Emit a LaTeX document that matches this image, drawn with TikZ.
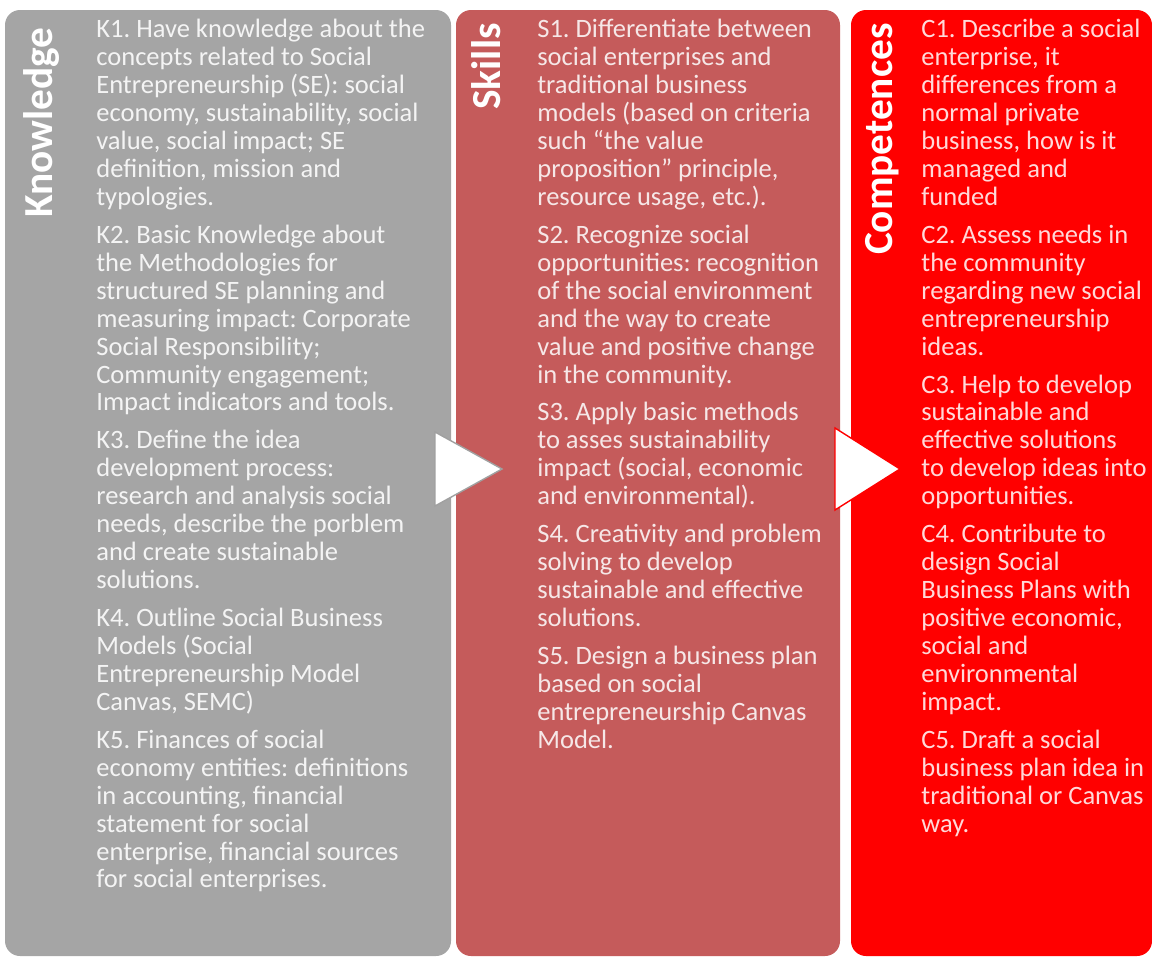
\documentclass[tikz,border=0pt]{standalone}
\usepackage{fontspec}
\setmainfont{Carlito}
\usetikzlibrary{fit}
\definecolor{sepgrey}{HTML}{A5A5A5}
\definecolor{seprose}{HTML}{C55B5B}
\definecolor{sepred}{HTML}{FF0000}
\definecolor{sepedge}{HTML}{A0A0A0}

\tikzset{
  panel/.style={rounded corners=0.3cm, inner sep=0pt, draw=none},
  paneltitle/.style={rotate=90, anchor=base east, inner sep=0pt, text=white,
    font=\fontsize{23.5}{28}\selectfont\bfseries},
  itemtext/.style={anchor=north west, inner sep=0pt, align=left,
    font=\fontsize{15.1}{15.9}\selectfont\frenchspacing},
  arrowtri/.style={fill=white, line width=0.8pt, line join=miter}
}

\begin{document}
\begin{tikzpicture}[x=0.02cm, y=-0.02cm]
  \useasboundingbox (0,0) rectangle (1152,957);

  % the three columns
  \node[panel, fill=sepgrey, fit={(5,10) (451,956)}] (know) {};
  \node[panel, fill=seprose, fit={(456,10) (840,956)}] (skill) {};
  \node[panel, fill=sepred, fit={(851,10) (1152,956)}] (comp) {};

  % column headings, set upright along the left edge
  \node[paneltitle] (knowtitle) at (52,27) {Knowledge};
  \node[paneltitle] (skilltitle) at (500,23) {Skills};
  \node[paneltitle] (comptitle) at (892,23) {Competences};

  \node[itemtext, text=white!88!sepgrey] (knowtext) at (96,19)
    {K1. Have knowledge about the\\
     concepts related to Social\\
     Entrepreneurship (SE): social\\
     economy, sustainability, social\\
     value, social impact; SE\\
     definition, mission and\\
     typologies.\\[5.7pt]
     K2. Basic Knowledge about\\
     the Methodologies for\\
     structured SE planning and\\
     measuring impact: Corporate\\
     Social Responsibility;\\
     Community engagement;\\
     Impact indicators and tools.\\[5.7pt]
     K3. Define the idea\\
     development process:\\
     research and analysis social\\
     needs, describe the porblem\\
     and create sustainable\\
     solutions.\\[5.7pt]
     K4. Outline Social Business\\
     Models (Social\\
     Entrepreneurship Model\\
     Canvas, SEMC)\\[5.7pt]
     K5. Finances of social\\
     economy entities: definitions\\
     in accounting, financial\\
     statement for social\\
     enterprise, financial sources\\
     for social enterprises.};

  \node[itemtext, text=white!85!seprose] (skilltext) at (537,19)
    {S1. Differentiate between\\
     social enterprises and\\
     traditional business\\
     models (based on criteria\\
     such “the value\\
     proposition” principle,\\
     resource usage, etc.).\\[5.7pt]
     S2. Recognize social\\
     opportunities: recognition\\
     of the social environment\\
     and the way to create\\
     value and positive change\\
     in the community.\\[5.7pt]
     S3. Apply basic methods\\
     to asses sustainability\\
     impact (social, economic\\
     and environmental).\\[5.7pt]
     S4. Creativity and problem\\
     solving to develop\\
     sustainable and effective\\
     solutions.\\[5.7pt]
     S5. Design a business plan\\
     based on social\\
     entrepreneurship Canvas\\
     Model.};

  \node[itemtext, text=white!85!sepred] (comptext) at (921,19)
    {C1. Describe a social\\
     enterprise, it\\
     differences from a\\
     normal private\\
     business, how is it\\
     managed and\\
     funded\\[5.7pt]
     C2. Assess needs in\\
     the community\\
     regarding new social\\
     entrepreneurship\\
     ideas.\\[5.7pt]
     C3. Help to develop\\
     sustainable and\\
     effective solutions\\
     to develop ideas into\\
     opportunities.\\[5.7pt]
     C4. Contribute to\\
     design Social\\
     Business Plans with\\
     positive economic,\\
     social and\\
     environmental\\
     impact.\\[5.7pt]
     C5. Draft a social\\
     business plan idea in\\
     traditional or Canvas\\
     way.};

  % white arrow heads between the columns
  \draw[arrowtri, draw=sepedge] (435,432) -- (502,469) -- (435,506) -- cycle;
  \draw[arrowtri, draw=sepred] (835,428) -- (900,469) -- (835,510) -- cycle;
\end{tikzpicture}
\end{document}
